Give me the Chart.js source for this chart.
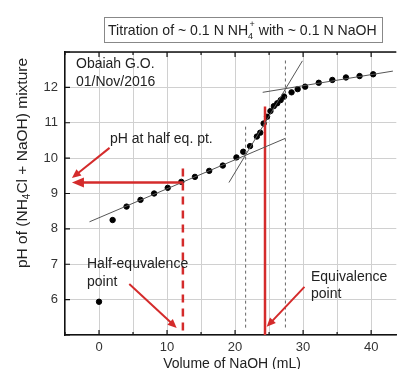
<!DOCTYPE html>
<html>
<head>
<meta charset="utf-8">
<script src="https://cdn.jsdelivr.net/npm/chart.js@4.4.0/dist/chart.umd.min.js"></script>
<style>
  html, body { margin: 0; padding: 0; background: #fff; overflow: hidden; }
  #wrap { width: 400px; height: 369px; }
</style>
</head>
<body>
<div id="wrap"><canvas id="chart" width="400" height="369"></canvas></div>
<script>
// Titration readings (volume of NaOH in mL, pH)
const volume = [0, 2, 4.05, 6.1, 8.1, 10.1, 12.1, 14.1, 16.2, 18.2, 20.2, 21.2, 22.2, 23.2, 23.7,
                24.2, 24.7, 25.2, 25.7, 26.2, 26.7, 27.2, 28.3, 29.2, 30.3, 32.3, 34.3, 36.3, 38.3, 40.3];
const ph = [5.94, 8.25, 8.63, 8.82, 9.0, 9.16, 9.33, 9.47, 9.64, 9.79, 10.02, 10.18, 10.34, 10.61, 10.72,
            10.98, 11.17, 11.33, 11.47, 11.55, 11.64, 11.74, 11.86, 11.95, 12.02, 12.13, 12.21, 12.28, 12.32, 12.37];

// tangent lines (end points)
const lowTangentVol = [-1.4, 27.4];
const lowTangentPH = [8.2, 10.56];
const steepTangentVol = [19.1, 29.9];
const steepTangentPH = [9.31, 12.75];
const highTangentVol = [24.06, 43.2];
const highTangentPH = [11.86, 12.46];

// dashed construction lines
const dashLeftVol = [21.55, 21.55];
const dashLeftPH = [10.89, 5.14];
const dashRightVol = [27.4, 27.4];
const dashRightPH = [12.76, 5.14];

// red markers
const eqVol = [24.4, 24.4];
const eqPH = [11.46, 5];
const halfEqVol = [12.33, 12.33];
const halfEqPH = [9.71, 5];

// arrows: [fromVol, fromPH, toVol, toPH]
const halfPhArrow = [12.33, 9.31, -3.98, 9.31];
const phLabelArrow = [1.55, 10.29, -3.98, 9.44];
const halfEqArrow = [4.45, 6.44, 11.42, 5.2];
const eqArrow = [30.2, 6.36, 24.65, 5.23];

// tick / axis settings
const xMin = -5, xMax = 43.7, yMin = 5, yMax = 13;

const RED = '#d42b2b';
const FONT = '"Liberation Sans", Arial, sans-serif';

function pairs(xs, ys) {
    return xs.map((x, i) => ({ x: x, y: ys[i] }));
}

function lineSet(xs, ys, color, width, dash) {
    return {
        data: pairs(xs, ys),
        showLine: true,
        borderColor: color,
        borderWidth: width,
        borderDash: dash || [],
        pointRadius: 0,
        fill: false
    };
}

function drawArrow(ctx, chart, a, width, head, half) {
    const xs = chart.scales.x, ys = chart.scales.y;
    const x1 = xs.getPixelForValue(a[0]), y1 = ys.getPixelForValue(a[1]);
    const x2 = xs.getPixelForValue(a[2]), y2 = ys.getPixelForValue(a[3]);
    const ang = Math.atan2(y2 - y1, x2 - x1);
    ctx.save();
    ctx.strokeStyle = RED;
    ctx.fillStyle = RED;
    ctx.lineWidth = width;
    ctx.beginPath();
    ctx.moveTo(x1, y1);
    ctx.lineTo(x2 - Math.cos(ang) * head * 0.8, y2 - Math.sin(ang) * head * 0.8);
    ctx.stroke();
    ctx.beginPath();
    ctx.moveTo(x2, y2);
    ctx.lineTo(x2 - Math.cos(ang) * head + Math.sin(ang) * half, y2 - Math.sin(ang) * head - Math.cos(ang) * half);
    ctx.lineTo(x2 - Math.cos(ang) * head - Math.sin(ang) * half, y2 - Math.sin(ang) * head + Math.cos(ang) * half);
    ctx.closePath();
    ctx.fill();
    ctx.restore();
}

// frame, inward ticks, annotations and titles
const decorations = {
    id: 'decorations',
    afterDatasetsDraw(chart) {
        const ctx = chart.ctx;
        const area = chart.chartArea;
        const xs = chart.scales.x, ys = chart.scales.y;

        drawArrow(ctx, chart, halfPhArrow, 2.5, 12, 5);
        drawArrow(ctx, chart, phLabelArrow, 2, 9, 4);
        drawArrow(ctx, chart, halfEqArrow, 2, 9, 4);
        drawArrow(ctx, chart, eqArrow, 2, 9, 4);

        ctx.save();
        // top frame line
        ctx.strokeStyle = '#111';
        ctx.lineWidth = 1.5;
        ctx.beginPath();
        ctx.moveTo(area.left, area.top);
        ctx.lineTo(area.right, area.top);
        ctx.stroke();

        // inward ticks
        ctx.lineWidth = 1.2;
        ctx.beginPath();
        xs.ticks.forEach(t => {
            const px = xs.getPixelForValue(t.value);
            const len = t.value % 10 === 0 ? 5 : 3;
            ctx.moveTo(px, area.bottom);
            ctx.lineTo(px, area.bottom - len);
            ctx.moveTo(px, area.top);
            ctx.lineTo(px, area.top + len);
        });
        ys.ticks.forEach(t => {
            const py = ys.getPixelForValue(t.value);
            const len = Number.isInteger(t.value) ? 5 : 3;
            ctx.moveTo(area.left, py);
            ctx.lineTo(area.left + len, py);
        });
        ctx.stroke();

        // text annotations
        ctx.fillStyle = '#222';
        ctx.font = '14px ' + FONT;
        ctx.textBaseline = 'middle';
        ctx.textAlign = 'left';
        ctx.fillText('Obaiah G.O.', 76, 64);
        ctx.fillText('01/Nov/2016', 76, 82);
        ctx.fillText('pH at half eq. pt.', 110, 139);
        ctx.fillText('Half-equvalence', 87, 264);
        ctx.fillText('point', 87, 282);
        ctx.fillText('Equivalence', 311, 277);
        ctx.fillText('point', 311, 294);

        // x axis title
        ctx.textAlign = 'center';
        ctx.textBaseline = 'top';
        ctx.font = '14px ' + FONT;
        ctx.fillText('Volume of NaOH (mL)', 232, 357);

        // y axis title with subscript
        ctx.save();
        ctx.translate(23, 163);
        ctx.rotate(-Math.PI / 2);
        const parts = [['pH of (NH', 15.5, 0], ['4', 10, 4], ['Cl + NaOH) mixture', 15.5, 0]];
        let total = 0;
        parts.forEach(p => { ctx.font = p[1] + 'px ' + FONT; total += ctx.measureText(p[0]).width; });
        let cx = -total / 2;
        ctx.textAlign = 'left';
        ctx.textBaseline = 'middle';
        parts.forEach(p => {
            ctx.font = p[1] + 'px ' + FONT;
            ctx.fillText(p[0], cx, p[2]);
            cx += ctx.measureText(p[0]).width;
        });
        ctx.restore();

        // title box
        ctx.fillStyle = '#fff';
        ctx.fillRect(104, 17, 279, 26);
        ctx.strokeStyle = '#888';
        ctx.lineWidth = 1;
        ctx.strokeRect(104.5, 17.5, 278, 25);
        ctx.fillStyle = '#222';
        ctx.textAlign = 'left';
        ctx.textBaseline = 'alphabetic';
        const tParts = [['Titration of ~ 0.1 N NH', 14.1, 35], ['4', 9, 39], ['+', 9, 27], [' with ~ 0.1 N NaOH', 14.1, 35]];
        let tx = 108;
        tParts.forEach((p, i) => {
            ctx.font = p[1] + 'px ' + FONT;
            ctx.fillText(p[0], i === 2 ? tx + 1.5 : tx, p[2]);
            if (i !== 1) tx += ctx.measureText(p[0]).width + (i === 2 ? 1.5 : 0);
        });
        ctx.restore();
    }
};

new Chart(document.getElementById('chart').getContext('2d'), {
    type: 'scatter',
    data: {
        datasets: [
            lineSet(lowTangentVol, lowTangentPH, '#555', 1),
            lineSet(steepTangentVol, steepTangentPH, '#555', 1),
            lineSet(highTangentVol, highTangentPH, '#555', 1),
            lineSet(dashLeftVol, dashLeftPH, '#666', 1, [3, 3]),
            lineSet(dashRightVol, dashRightPH, '#666', 1, [3, 3]),
            lineSet(eqVol, eqPH, RED, 2.5),
            lineSet(halfEqVol, halfEqPH, RED, 2.5, [8, 6]),
            {
                data: pairs(volume, ph),
                backgroundColor: '#000',
                borderColor: '#000',
                pointRadius: 2.7,
                pointHoverRadius: 2.7
            }
        ]
    },
    options: {
        responsive: false,
        animation: false,
        events: [],
        layout: { padding: { top: 52, left: 0, right: 0, bottom: 0 } },
        plugins: {
            legend: { display: false },
            tooltip: { enabled: false }
        },
        scales: {
            x: {
                type: 'linear',
                min: xMin,
                max: xMax,
                afterBuildTicks: axis => {
                    const t = [];
                    for (let v = -5; v <= 40; v += 5) t.push({ value: v });
                    axis.ticks = t;
                },
                afterFit: axis => { axis.height = 34; },
                grid: { color: '#d0d0d0', lineWidth: 1, drawTicks: false },
                border: { color: '#111', width: 1.5 },
                ticks: {
                    padding: 5,
                    color: '#333',
                    font: { family: FONT, size: 13 },
                    maxRotation: 0,
                    callback: v => (v % 10 === 0 ? String(v) : '')
                }
            },
            y: {
                min: yMin,
                max: yMax,
                afterBuildTicks: axis => {
                    const t = [];
                    for (let v = 5; v <= 13; v += 0.5) t.push({ value: v });
                    axis.ticks = t;
                },
                afterFit: axis => { axis.width = 65; },
                grid: { color: '#d0d0d0', lineWidth: 1, drawTicks: false },
                border: { color: '#111', width: 1.5 },
                ticks: {
                    padding: 7,
                    color: '#333',
                    font: { family: FONT, size: 13 },
                    callback: v => (Number.isInteger(v) && v > 5 && v < 13 ? String(v) : '')
                }
            }
        }
    },
    plugins: [decorations]
});
</script>
</body>
</html>
